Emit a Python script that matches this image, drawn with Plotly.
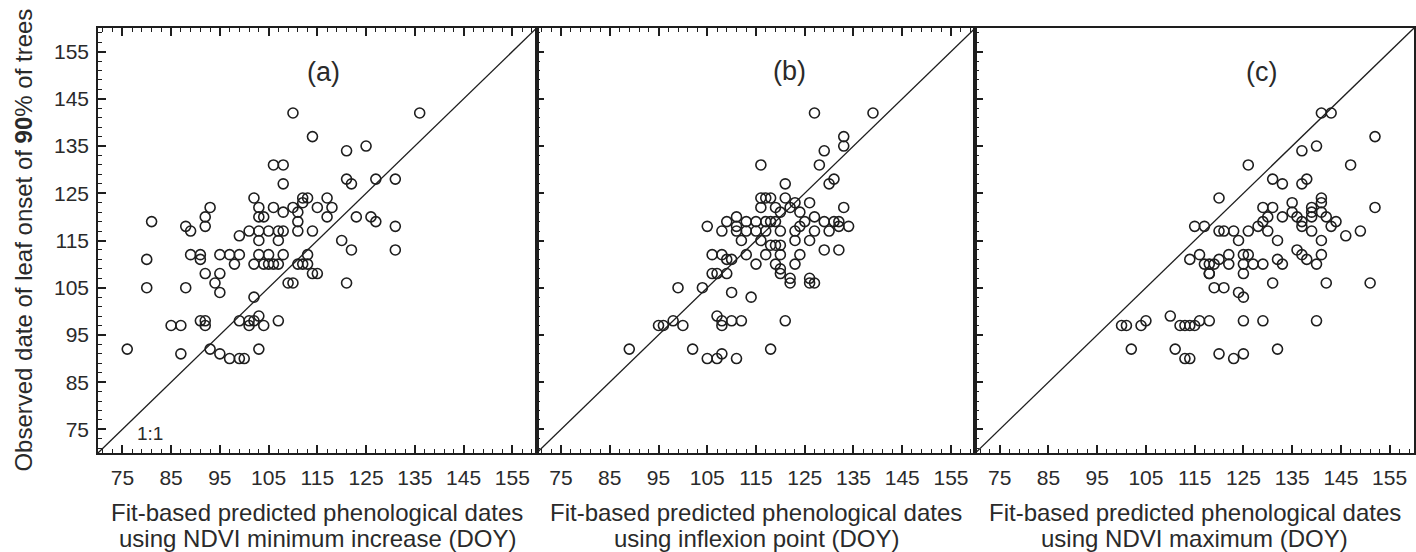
import plotly.graph_objects as go

# ---------------- data ----------------
panel_labels = ["(a)", "(b)", "(c)"]
x_title_line1 = ["Fit-based predicted phenological dates"] * 3
x_title_line2 = [
    "using NDVI minimum increase (DOY)",
    "using inflexion point (DOY)",
    "using NDVI maximum (DOY)",
]
y_title = "Observed date of leaf onset of <b>90</b>% of trees"
axis_range = [70, 160]
one_to_one = [70, 160]
tick_values = [75, 85, 95, 105, 115, 125, 135, 145, 155]

# panel (a): NDVI minimum increase
a_pred = [76, 80, 80, 81, 85, 87, 87, 88, 88, 89, 89, 91, 91, 91, 92, 92, 92, 92, 92, 93,
          93, 94, 95, 95, 95, 95, 97, 97, 98, 99, 99, 99, 99, 100, 101, 101, 102, 102, 103, 104,
          103, 101, 102, 103, 103, 104, 106, 108, 103, 105, 107, 108, 111, 103, 107, 103, 105, 108, 102, 104,
          105, 106, 107, 110, 112, 111, 111, 107, 109, 106, 108, 108, 110, 114, 121, 125, 121, 122, 127, 131,
          136, 113, 117, 112, 115, 118, 117, 111, 114, 123, 126, 127, 131, 131, 120, 122, 113, 112, 113, 115,
          110, 121, 114]
a_obs = [92, 105, 111, 119, 97, 97, 91, 105, 118, 117, 112, 112, 111, 98, 97, 98, 108, 118, 120, 122,
         92, 106, 104, 108, 112, 91, 112, 90, 110, 112, 116, 90, 98, 90, 97, 98, 103, 98, 99, 97,
         92, 117, 124, 122, 120, 120, 122, 121, 117, 117, 117, 117, 117, 115, 115, 112, 112, 112, 110, 110,
         110, 110, 110, 122, 124, 119, 110, 98, 106, 131, 131, 127, 142, 137, 134, 135, 128, 127, 128, 128,
         142, 124, 124, 123, 122, 122, 120, 121, 117, 120, 120, 119, 118, 113, 115, 113, 112, 110, 110, 108,
         106, 106, 108]

# panel (b): inflexion point
b_pred = [89, 95, 96, 98, 100, 99, 104, 107, 109, 102, 105, 107, 108, 111, 107, 108, 108, 110, 112, 110,
          114, 118, 121, 120, 122, 126, 127, 105, 116, 127, 139, 133, 133, 129, 128, 130, 131, 121, 133, 134,
          129, 132, 116, 118, 121, 123, 126, 124, 125, 127, 129, 131, 132, 120, 122, 118, 111, 109, 108, 111,
          113, 115, 117, 120, 123, 124, 127, 130, 132, 112, 116, 119, 123, 126, 106, 108, 110, 113, 115, 117,
          119, 120, 123, 124, 126, 122, 120, 106, 109, 117, 119, 115, 117, 119, 118, 120, 116, 113, 111]
b_obs = [92, 97, 97, 98, 97, 105, 105, 108, 108, 92, 90, 90, 91, 90, 99, 98, 97, 98, 98, 104,
         103, 92, 98, 108, 106, 106, 106, 118, 131, 142, 142, 137, 135, 134, 131, 127, 128, 127, 122, 118,
         113, 113, 124, 124, 124, 123, 123, 121, 119, 120, 119, 119, 119, 121, 122, 119, 120, 119, 117, 117,
         117, 117, 117, 117, 117, 118, 117, 117, 118, 115, 115, 114, 115, 115, 112, 112, 111, 112, 110, 112,
         110, 112, 110, 112, 107, 107, 109, 108, 111, 124, 122, 119, 119, 119, 114, 114, 122, 119, 118]

# panel (c): NDVI maximum
c_pred = [101, 100, 102, 104, 105, 110, 112, 113, 114, 115, 116, 118, 111, 113, 114, 120, 123, 125, 132, 125,
          129, 140, 118, 125, 119, 121, 124, 125, 131, 142, 151, 120, 141, 143, 152, 137, 140, 126, 147, 131,
          133, 138, 137, 152, 149, 146, 129, 131, 135, 141, 139, 141, 130, 133, 136, 137, 139, 142, 144, 135,
          139, 141, 115, 117, 120, 123, 126, 128, 130, 137, 139, 143, 124, 132, 141, 114, 116, 117, 120, 122,
          125, 126, 129, 132, 133, 136, 137, 138, 140, 141, 119, 122, 125, 127, 118, 118, 121, 129]
c_obs = [97, 97, 92, 97, 98, 99, 97, 97, 97, 97, 98, 98, 92, 90, 90, 91, 90, 91, 92, 98,
         98, 98, 108, 108, 105, 105, 104, 103, 106, 106, 106, 124, 142, 142, 137, 134, 135, 131, 131, 128,
         127, 128, 127, 122, 117, 116, 122, 122, 123, 124, 122, 123, 120, 120, 120, 119, 120, 120, 119, 121,
         121, 121, 118, 118, 117, 117, 117, 118, 117, 118, 117, 118, 115, 115, 115, 111, 112, 110, 111, 110,
         110, 112, 110, 111, 110, 113, 112, 111, 110, 112, 110, 112, 112, 110, 110, 108, 117, 119]

predicted = [a_pred, b_pred, c_pred]
observed = [a_obs, b_obs, c_obs]

# panel label positions (data coords) and 1:1 label
label_x = [116.2, 121.9, 128.7]
label_y = [150.7, 151.0, 150.7]
one_label_xy = (80.7, 74.2)

# ---------------- styling ----------------
FONT = "Liberation Sans, Arial, Helvetica, sans-serif"
INK = "#1e1e1e"
TXT = "#2a2a2a"

fig = go.Figure()

L, R, T, B = 98, 0, 28, 99
W, H = 1416, 552
plot_w = W - L - R
plot_h = H - T - B
panel_px = plot_w / 3.0
domains = [[i * panel_px / plot_w, (i + 1) * panel_px / plot_w] for i in range(3)]


def paper_y(py):
    """pixel row (from top) -> paper y"""
    return (H - B - py) / plot_h


for i in range(3):
    xa = "x" if i == 0 else f"x{i+1}"
    ya = "y" if i == 0 else f"y{i+1}"
    # 1:1 line
    fig.add_trace(go.Scatter(x=one_to_one, y=one_to_one, mode="lines",
                             line=dict(color=INK, width=1.3),
                             xaxis=xa, yaxis=ya, hoverinfo="skip", showlegend=False))
    fig.add_trace(go.Scatter(x=predicted[i], y=observed[i], mode="markers",
                             marker=dict(symbol="circle-open", size=10,
                                         color=INK, line=dict(color=INK, width=1.6)),
                             xaxis=xa, yaxis=ya, showlegend=False))

common_axis = dict(
    range=axis_range, tickmode="linear", tick0=75, dtick=10,
    ticks="inside", ticklen=8, tickwidth=1.5, tickcolor=INK,
    showline=True, linecolor=INK, linewidth=1.5,
    showgrid=False, zeroline=False,
    minor=dict(ticks="inside", ticklen=4, tickwidth=1.1, tickcolor=INK,
               tickmode="linear", tick0=75, dtick=2),
    tickfont=dict(family=FONT, size=21, color=TXT),
)

layout_axes = {}
for i in range(3):
    xk = "xaxis" if i == 0 else f"xaxis{i+1}"
    yk = "yaxis" if i == 0 else f"yaxis{i+1}"
    xd = dict(common_axis)
    xd.update(domain=domains[i], anchor="y" if i == 0 else f"y{i+1}",
              mirror="ticks" if i < 2 else True, ticklabelstandoff=5)
    yd = dict(common_axis)
    yd.update(domain=[0, 1], anchor="x" if i == 0 else f"x{i+1}",
              mirror=True, showticklabels=(i == 0), ticklabelstandoff=3)
    layout_axes[xk] = xd
    layout_axes[yk] = yd

annotations = []
for i in range(3):
    xr = "x" if i == 0 else f"x{i+1}"
    yr = "y" if i == 0 else f"y{i+1}"
    cx = (domains[i][0] + domains[i][1]) / 2
    annotations.append(dict(x=label_x[i], y=label_y[i], xref=xr, yref=yr,
                            text=panel_labels[i], showarrow=False,
                            font=dict(family=FONT, size=27, color=TXT),
                            xanchor="center", yanchor="middle"))
    annotations.append(dict(x=cx, y=paper_y(512), xref="paper", yref="paper",
                            text=x_title_line1[i], showarrow=False,
                            font=dict(family=FONT, size=24, color=TXT),
                            xanchor="center", yanchor="middle"))
    annotations.append(dict(x=cx, y=paper_y(538), xref="paper", yref="paper",
                            text=x_title_line2[i], showarrow=False,
                            font=dict(family=FONT, size=24, color=TXT),
                            xanchor="center", yanchor="middle"))
annotations.append(dict(x=one_label_xy[0], y=one_label_xy[1], xref="x", yref="y",
                        text="1:1", showarrow=False,
                        font=dict(family=FONT, size=19, color=TXT),
                        xanchor="center", yanchor="middle"))
annotations.append(dict(x=-(L - 23) / plot_w, y=0.5, xref="paper", yref="paper",
                        text=y_title, textangle=-90, showarrow=False,
                        font=dict(family=FONT, size=24, color=TXT),
                        xanchor="center", yanchor="middle"))

fig.update_layout(
    width=W, height=H,
    margin=dict(l=L, r=R, t=T, b=B, pad=0),
    paper_bgcolor="white", plot_bgcolor="white",
    showlegend=False,
    annotations=annotations,
    **layout_axes,
)

fig.write_html("out.html")
